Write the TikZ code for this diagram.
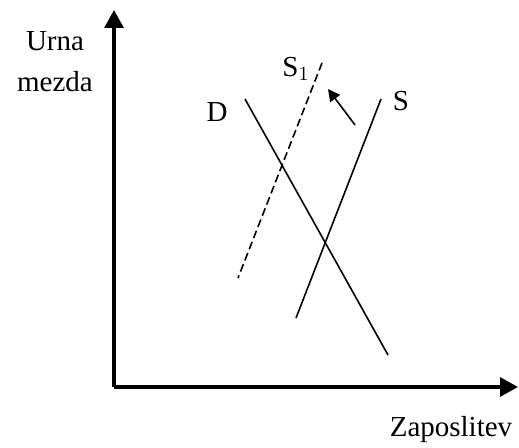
\documentclass[tikz,border=0pt]{standalone}
\usepackage{fontspec}
\setmainfont{Liberation Serif}
\usetikzlibrary{arrows.meta}
\begin{document}
\begin{tikzpicture}[x=0.5pt, y=-0.5pt, font=\fontsize{14.5}{20.5}\selectfont,
    axis/.style={line width=1.6pt, -{Triangle[length=9pt, width=9.5pt]}},
    curve/.style={line width=0.8pt}]
  \useasboundingbox (0,0) rectangle (519,448);
  % axes
  \coordinate (o) at (114,387);
  \coordinate (ytop) at (114,10);
  \coordinate (xend) at (518,387);
  \draw[axis] (o) -- (ytop);
  \draw[axis] (o) -- (xend);
  \node[align=center] (ylab) at (55,62) {Urna\\mezda};
  \node (xlab) at (451,430) {Zaposlitev};
  % demand and supply
  \coordinate (d1) at (245,99);
  \coordinate (d2) at (388,355);
  \coordinate (s1) at (381,99);
  \coordinate (s2) at (296,318);
  \coordinate (n1) at (322,63);
  \coordinate (n2) at (238,278);
  \draw[curve] (d1) -- (d2);
  \draw[curve] (s1) -- (s2);
  \draw[curve, dashed, dash pattern=on 4pt off 2pt] (n1) -- (n2);
  \node (dlab) at (217,112) {D};
  \node (slab) at (401,101) {S};
  \node (snlab) at (296,69) {S$_1$};
  % shift
  \coordinate (a1) at (355,125);
  \coordinate (a2) at (328,89);
  \draw[curve, -{Triangle[length=6pt, width=6pt]}] (a1) -- (a2);
\end{tikzpicture}
\end{document}
